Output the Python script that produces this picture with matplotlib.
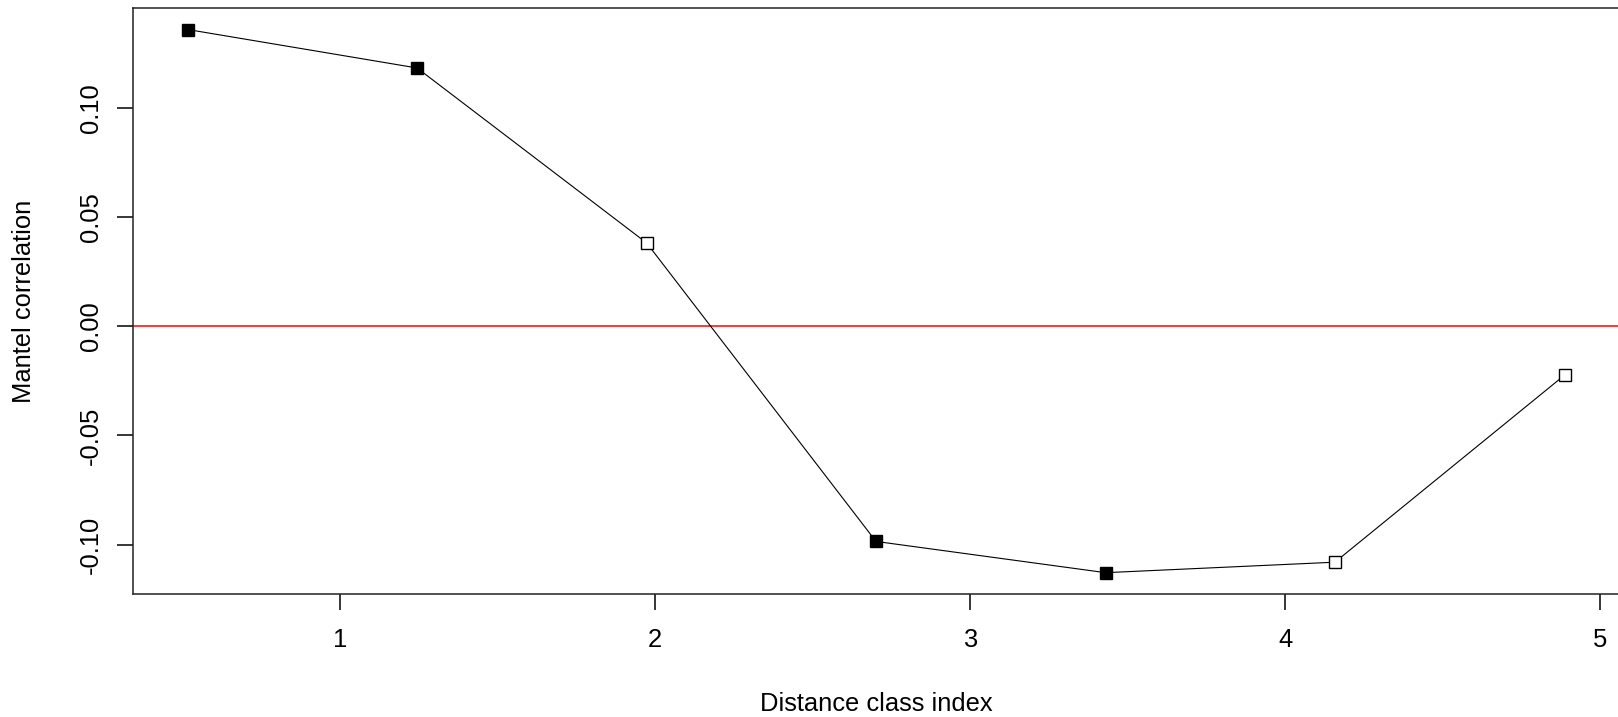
"""
Mantel correlogram (R-style base graphics look)
"""

import numpy as np
import matplotlib
matplotlib.use("Agg")
import matplotlib.pyplot as plt

# ===============================
# DATA
# ===============================

class_index = [0.516, 1.244, 1.973, 2.701, 3.430, 4.158, 4.887]
mantel_r = [0.1358, 0.1182, 0.0381, -0.0985, -0.1128, -0.1080, -0.0224]
significant = [True, True, False, True, True, False, False]

x_ticks = [1, 2, 3, 4, 5]
y_ticks = [-0.10, -0.05, 0.00, 0.05, 0.10]

# ===============================
# STYLE
# ===============================

plt.rcParams["font.family"] = ["Liberation Sans", "DejaVu Sans"]
plt.rcParams["axes.unicode_minus"] = False

W, H, DPI = 1618, 717, 100


def r_limits(values):
    # R pads the data range by 4% on each side
    lo, hi = min(values), max(values)
    pad = 0.04 * (hi - lo)
    return lo - pad, hi + pad


# ===============================
# PLOT
# ===============================

fig = plt.figure(figsize=(W / DPI, H / DPI), dpi=DPI)
left, right = 132.7 / W, 1619.6 / W
bottom, top = 1 - 594.4 / H, 1 - 7.8 / H
ax = fig.add_axes([left, bottom, right - left, top - bottom])

ax.axhline(0, color="#ff0000", lw=1.1, zorder=1)
ax.plot(class_index, mantel_r, color="black", lw=0.8, zorder=2)

x = np.array(class_index)
y = np.array(mantel_r)
sig = np.array(significant)
ax.plot(x[sig], y[sig], ls="none", marker="s", ms=8.8,
        mfc="black", mec="black", mew=1.0, zorder=3)
ax.plot(x[~sig], y[~sig], ls="none", marker="s", ms=8.8,
        mfc="white", mec="black", mew=1.0, zorder=3)

ax.set_xlim(*r_limits(class_index))
ax.set_ylim(*r_limits(mantel_r))

ax.set_xticks(x_ticks)
ax.set_xticklabels([str(t) for t in x_ticks])
ax.set_yticks(y_ticks)
ax.set_yticklabels([f"{t:.2f}" for t in y_ticks], rotation=90, va="center")

ax.tick_params(axis="both", direction="out", length=11.5, width=1.1,
               labelsize=18.4, colors="black")
ax.tick_params(axis="x", pad=13)
ax.tick_params(axis="y", pad=10)

for sp in ax.spines.values():
    sp.set_linewidth(1.1)
    sp.set_color("#222222")

fig.text(24.2 / W, 0.5 * (bottom + top), "Mantel correlation",
         rotation=90, ha="center", va="center", fontsize=18.4)
fig.text(0.5 * (left + right), 1 - 711 / H, "Distance class index",
         ha="center", va="baseline", fontsize=18.4)

fig.savefig("out.png", dpi=DPI)
